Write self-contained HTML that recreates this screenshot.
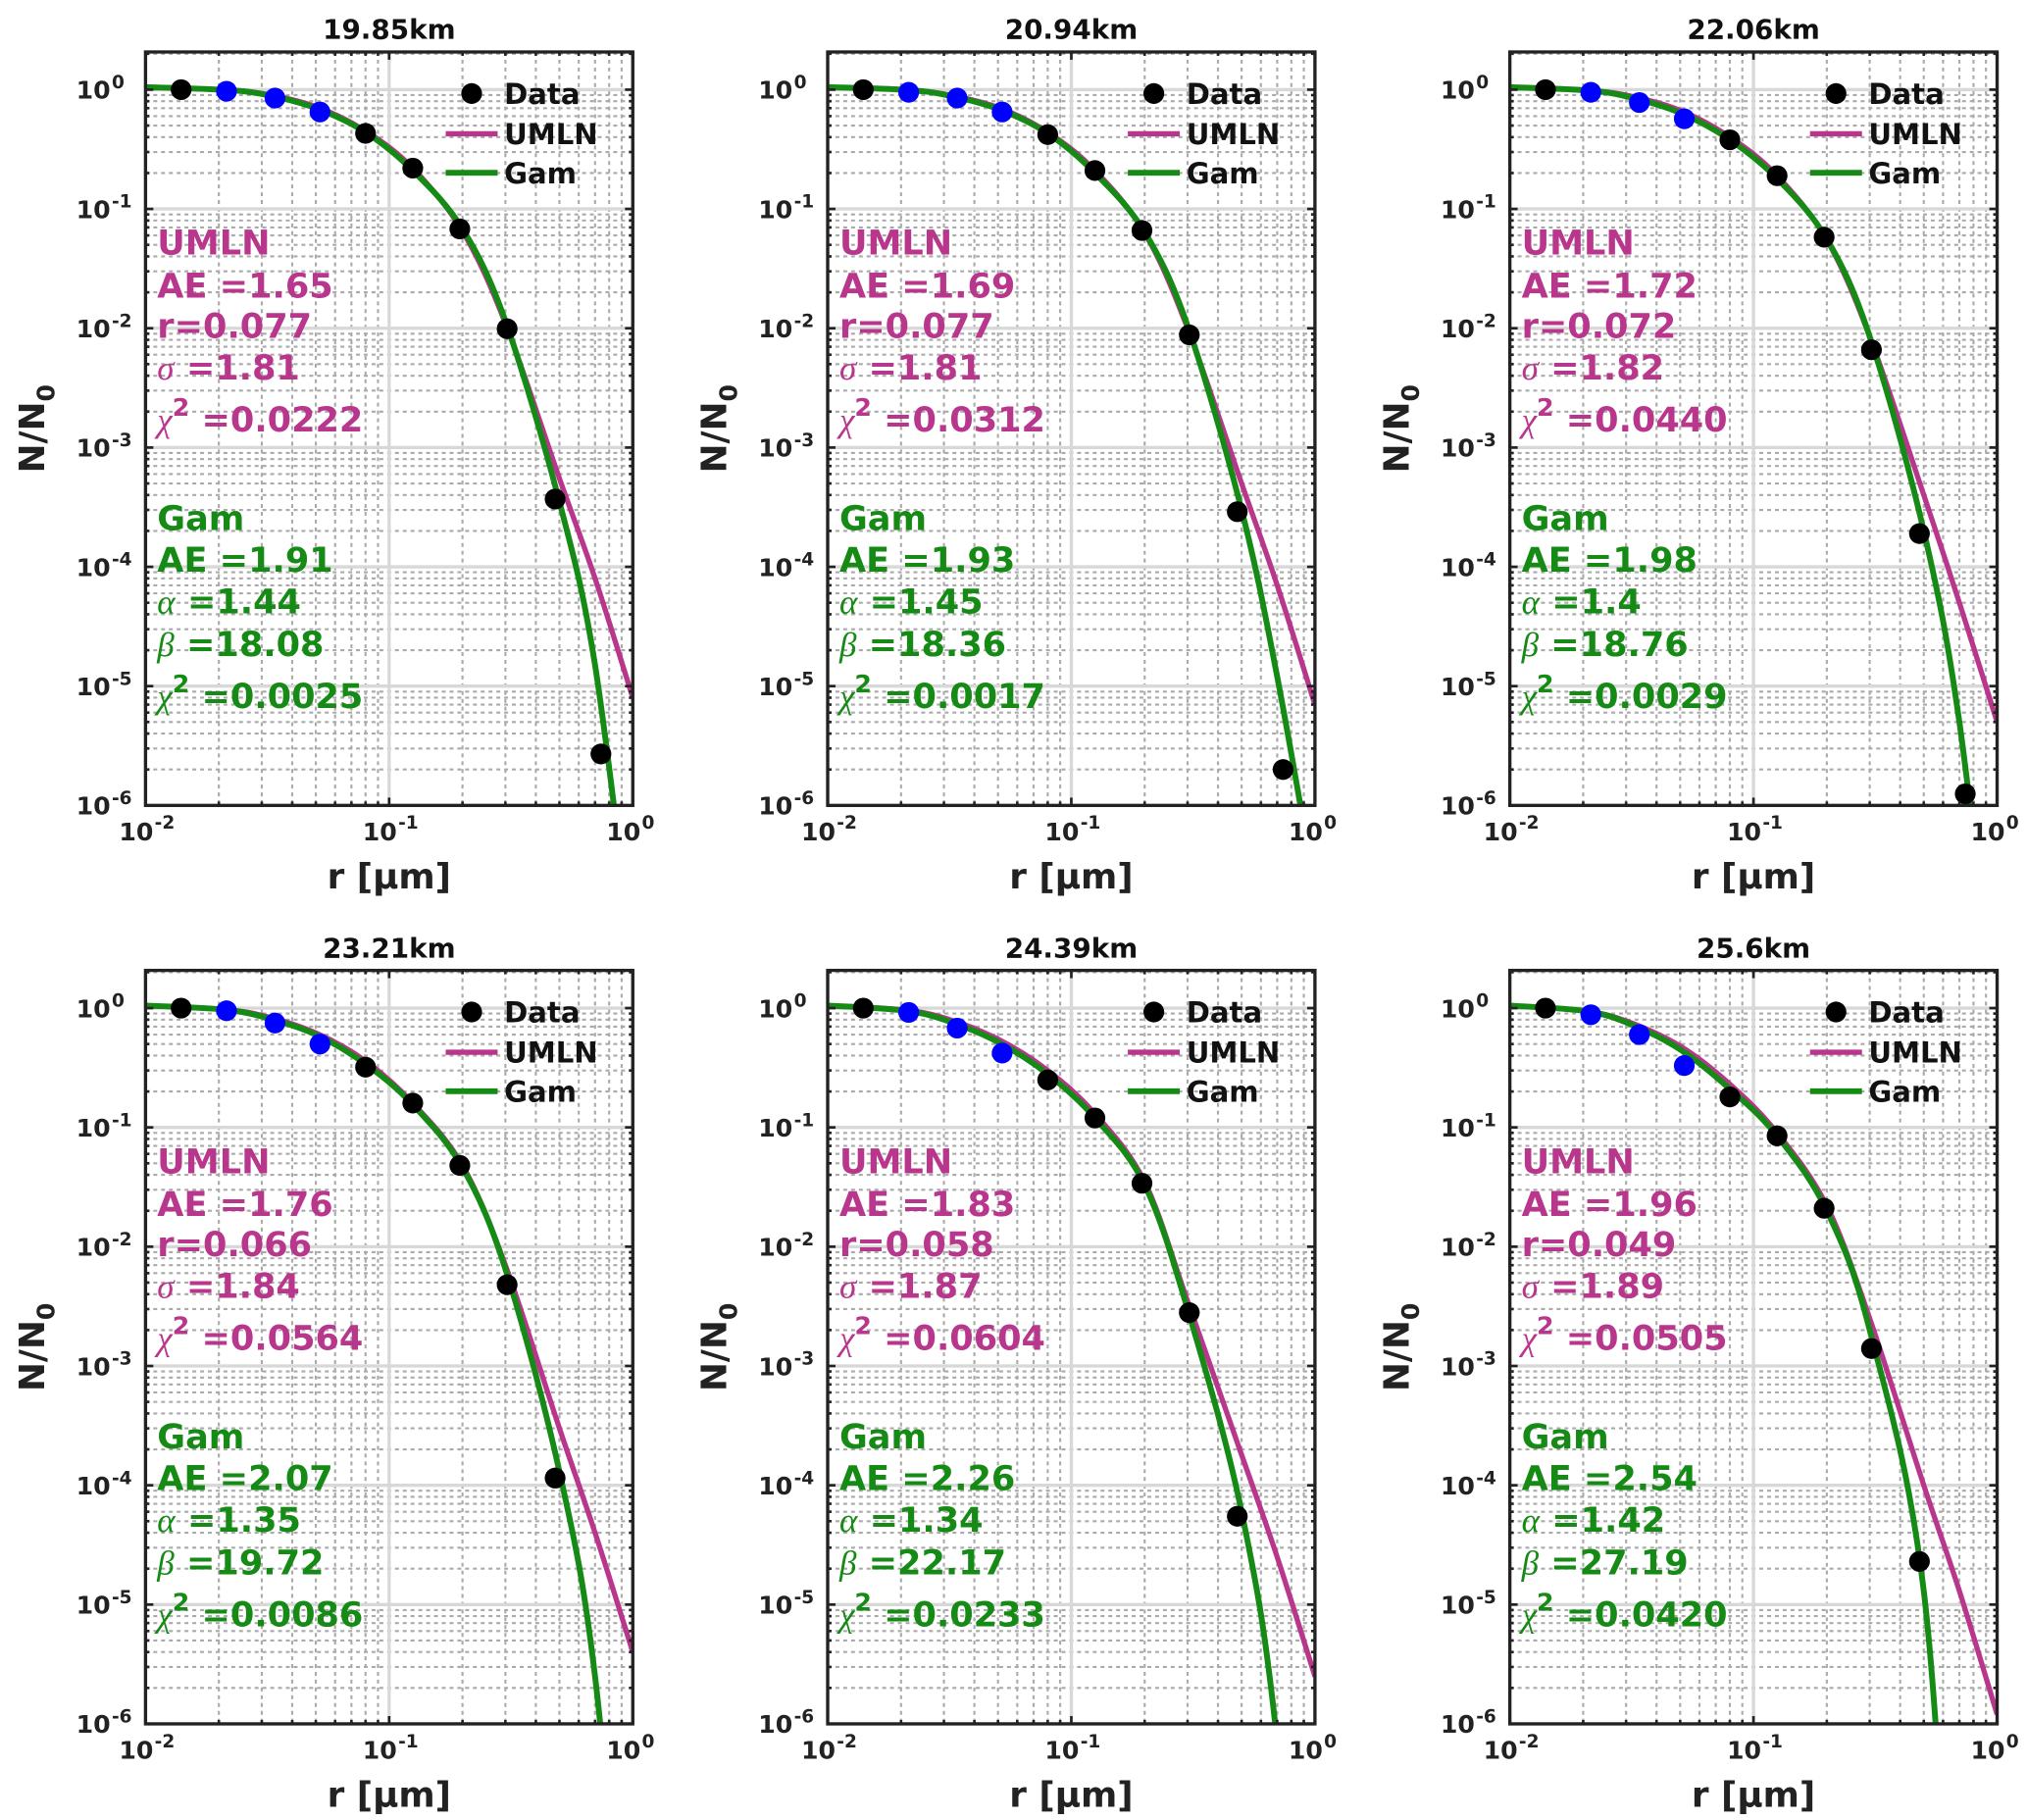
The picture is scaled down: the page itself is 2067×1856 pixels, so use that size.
<!DOCTYPE html>
<html><head><meta charset="utf-8"><style>
html,body{margin:0;padding:0;background:#fff;overflow:hidden;width:2067px;height:1856px;}
svg{display:block;font-family:"DejaVu Sans","Liberation Sans",sans-serif;}
</style></head><body>
<svg id="fig" width="2067" height="1856" viewBox="0 0 1560 1401" preserveAspectRatio="none" xmlns="http://www.w3.org/2000/svg"></svg>
<script>
const titles = ["19.85km","20.94km","22.06km","23.21km","24.39km","25.6km"];
const dataX = [0.014,0.0215,0.034,0.052,0.08,0.125,0.195,0.305,0.48,0.74];
const blueIdx = [1,2,3];
const dataY1 = [1.0,0.97,0.85,0.65,0.43,0.22,0.068,0.0099,3.7e-4,2.7e-6];
const dataY2 = [1.0,0.95,0.85,0.65,0.42,0.21,0.066,0.0088,2.9e-4,2.0e-6];
const dataY3 = [1.0,0.95,0.78,0.57,0.38,0.19,0.058,0.0066,1.9e-4,1.25e-6];
const dataY4 = [1.0,0.95,0.75,0.5,0.32,0.16,0.048,0.0048,1.15e-4,null];
const dataY5 = [1.0,0.92,0.68,0.42,0.25,0.12,0.034,0.0028,5.5e-5,null];
const dataY6 = [1.0,0.88,0.6,0.33,0.18,0.085,0.021,0.0014,2.3e-5,null];
const curveX = [0.01,0.02,0.03,0.05,0.08,0.125,0.2,0.3,0.5,0.7,1.0];
const umln1 = [1.05,1.0,0.93,0.72,0.45,0.22,0.065,0.011,5.5e-4,8e-5,8e-6];
const gam1  = [1.05,1.0,0.92,0.70,0.44,0.21,0.068,0.0115,3.5e-4,1.5e-5,5e-8];
const umln2 = [1.05,1.0,0.92,0.71,0.44,0.21,0.063,0.010,5e-4,7e-5,7e-6];
const gam2  = [1.05,1.0,0.91,0.69,0.43,0.20,0.064,0.0105,3e-4,1.2e-5,2e-7];
const umln3 = [1.05,0.99,0.90,0.67,0.40,0.19,0.055,0.0085,4e-4,5e-5,5e-6];
const gam3  = [1.05,0.99,0.88,0.64,0.38,0.18,0.056,0.0085,2e-4,5e-6,1e-8];
const umln4 = [1.05,0.98,0.87,0.62,0.36,0.16,0.048,0.007,3e-4,4e-5,4e-6];
const gam4  = [1.05,0.98,0.85,0.60,0.34,0.155,0.046,0.0065,1.3e-4,2.5e-6,1e-9];
const umln5 = [1.05,0.97,0.83,0.55,0.30,0.13,0.035,0.0035,1.8e-4,2.5e-5,2.5e-6];
const gam5  = [1.05,0.96,0.80,0.52,0.28,0.12,0.033,0.003,6e-5,7e-7,1e-10];
const umln6 = [1.05,0.95,0.78,0.48,0.23,0.09,0.022,0.0025,1e-4,1.3e-5,1.2e-6];
const gam6  = [1.05,0.95,0.76,0.45,0.21,0.085,0.02,0.002,1.3e-5,1e-9,1e-12];
const umlnAE = ["1.65","1.69","1.72","1.76","1.83","1.96"];
const umlnR = ["0.077","0.077","0.072","0.066","0.058","0.049"];
const umlnS = ["1.81","1.81","1.82","1.84","1.87","1.89"];
const umlnC = ["0.0222","0.0312","0.0440","0.0564","0.0604","0.0505"];
const gamAE = ["1.91","1.93","1.98","2.07","2.26","2.54"];
const gamA = ["1.44","1.45","1.4","1.35","1.34","1.42"];
const gamB = ["18.08","18.36","18.76","19.72","22.17","27.19"];
const gamC = ["0.0025","0.0017","0.0029","0.0086","0.0233","0.0420"];
const yTickExp = [0,-1,-2,-3,-4,-5,-6];
const xTickExp = [-2,-1,0];

const allData=[dataY1,dataY2,dataY3,dataY4,dataY5,dataY6];
const allU=[umln1,umln2,umln3,umln4,umln5,umln6];
const allG=[gam1,gam2,gam3,gam4,gam5,gam6];
const MAG="#b8368b", GRN="#158a15";
const NS="http://www.w3.org/2000/svg";
const svg=document.getElementById('fig');
function mk(tag,attrs,parent){const e=document.createElementNS(NS,tag);for(const k in attrs)e.setAttribute(k,attrs[k]);(parent||svg).appendChild(e);return e;}
const colX=[112,637,1162], rowY=[40,747];
const W=375,H=580;
const yMaxLog=Math.log10(2.07), yMinLog=-6;

function smooth(pts){
  let d="M"+pts[0][0]+","+pts[0][1];
  for(let i=0;i<pts.length-1;i++){
    const p0=pts[Math.max(0,i-1)],p1=pts[i],p2=pts[i+1],p3=pts[Math.min(pts.length-1,i+2)];
    const c1=[p1[0]+(p2[0]-p0[0])/6,p1[1]+(p2[1]-p0[1])/6];
    const c2=[p2[0]-(p3[0]-p1[0])/6,p2[1]-(p3[1]-p1[1])/6];
    d+=" C"+c1[0]+","+c1[1]+" "+c2[0]+","+c2[1]+" "+p2[0]+","+p2[1];
  }
  return d;
}

for(let p=0;p<6;p++){
  const L=colX[p%3], T=rowY[Math.floor(p/3)];
  const sx=v=>L+(Math.log10(v)+2)/2*W;
  const sy=v=>T+(yMaxLog-Math.log10(v))/(yMaxLog-yMinLog)*H;
  const g=mk('g',{});
  
  
  const cp=mk('clipPath',{id:'clip'+p},g);
  mk('rect',{x:L,y:T,width:W,height:H},cp);
  const grid=mk('g',{},g);
  
  
  for(let e=-2;e<0;e++){for(let m=2;m<=9;m++){const x=sx(m*Math.pow(10,e));mk('line',{x1:x,x2:x,y1:T,y2:T+H,stroke:'#aaa','stroke-width':1.6,'stroke-dasharray':'3,3'},grid);}}
  for(let e=-6;e<1;e++){for(let m=2;m<=9;m++){const v=m*Math.pow(10,e);if(Math.log10(v)>yMaxLog)continue;const y=sy(v);mk('line',{x1:L,x2:L+W,y1:y,y2:y,stroke:'#aaa','stroke-width':1.6,'stroke-dasharray':'3,3'},grid);}}
  xTickExp.forEach(e=>{const x=sx(Math.pow(10,e));mk('line',{x1:x,x2:x,y1:T,y2:T+H,stroke:'#d8d8d8','stroke-width':2.5},grid);});
  yTickExp.forEach(e=>{const y=sy(Math.pow(10,e));mk('line',{x1:L,x2:L+W,y1:y,y2:y,stroke:'#d8d8d8','stroke-width':2.5},grid);});
  const um=allU[p], ga=allG[p];
  const pu=mk('path',{d:smooth(curveX.map((x,i)=>[sx(x),sy(um[i])])),fill:'none',stroke:MAG,'stroke-width':4,'clip-path':'url(#clip'+p+')'},g);
  
  
  const pg=mk('path',{d:smooth(curveX.map((x,i)=>[sx(x),sy(ga[i])])),fill:'none',stroke:GRN,'stroke-width':4.5,'clip-path':'url(#clip'+p+')'},g);
  
  
  const dy=allData[p];
  dataX.forEach((x,i)=>{if(dy[i]==null)return;
    const c=mk('circle',{cx:sx(x),cy:sy(dy[i]),r:8,fill:blueIdx.includes(i)?'#0000ff':'#000'},g);
    
    });
  const fr=mk('rect',{x:L,y:T,width:W,height:H,fill:'none',stroke:'#222','stroke-width':2.5},g);
  
  
  for(let e=-6;e<1;e++){for(let m=1;m<=9;m++){const v=m*Math.pow(10,e);if(Math.log10(v)>yMaxLog)continue;const y=sy(v);const len=m==1?6:3;
    mk('line',{x1:L,x2:L+len,y1:y,y2:y,stroke:'#222','stroke-width':2},g);mk('line',{x1:L+W,x2:L+W-len,y1:y,y2:y,stroke:'#222','stroke-width':2},g);}}
  for(let e=-2;e<=0;e++){for(let m=1;m<=9;m++){const v=m*Math.pow(10,e);if(v>1)continue;const x=sx(v);const len=m==1?6:3;
    mk('line',{x1:x,x2:x,y1:T,y2:T+len,stroke:'#222','stroke-width':2},g);mk('line',{x1:x,x2:x,y1:T+H,y2:T+H-len,stroke:'#222','stroke-width':2},g);}}
  yTickExp.forEach(e=>{const y=sy(Math.pow(10,e));
    const t=mk('text',{x:L-27,y:y+7,'text-anchor':'end','font-size':19,'font-weight':'bold',fill:'#222'},g);
    
    
    t.textContent='10';
    const s=mk('text',{x:L-26,y:y-1,'font-size':14,'font-weight':'bold',fill:'#222'},g);
    s.textContent=String(e);});
  xTickExp.forEach(e=>{const x=sx(Math.pow(10,e));
    const t=mk('text',{x:x+6,y:T+H+27,'text-anchor':'end','font-size':19,'font-weight':'bold',fill:'#222'},g);
    
    
    t.textContent='10';
    const s=mk('text',{x:x+7,y:T+H+18,'font-size':14,'font-weight':'bold',fill:'#222'},g);
    s.textContent=String(e);});
  const tt=mk('text',{x:L+W/2,y:T-10,'text-anchor':'middle','font-size':21,'font-weight':'bold',fill:'#111'},g);
  
  
  tt.textContent=titles[p];
  const xl=mk('text',{x:L+W/2,y:T+H+64,'text-anchor':'middle','font-size':27,'font-weight':'bold',fill:'#222'},g);
  
  
  xl.textContent='r [μm]';
  const yl=mk('text',{transform:`translate(${L-78},${T+H/2}) rotate(-90)`,'text-anchor':'middle','font-size':27,'font-weight':'bold',fill:'#222'},g);
  
  
  yl.innerHTML='N/N<tspan font-size="19" dy="8">0</tspan>';
  const lg=mk('g',{},g);
  
  
  mk('circle',{cx:L+251,cy:T+32,r:8,fill:'#000'},lg);
  mk('line',{x1:L+231,x2:L+271,y1:T+63,y2:T+63,stroke:MAG,'stroke-width':4},lg);
  mk('line',{x1:L+231,x2:L+271,y1:T+93,y2:T+93,stroke:GRN,'stroke-width':4.5},lg);
  [['Data',32],['UMLN',63],['Gam',93]].forEach(([s,dy2])=>{const t=mk('text',{x:L+276,y:T+dy2+8,'font-size':22,'font-weight':'bold',fill:'#111'},lg);t.textContent=s;});
  const ann=mk('g',{'font-size':26.5,'font-weight':'bold'},g);
  
  
  const ax=L+9;
  const G='font-family="Liberation Serif,serif" font-style="italic" font-weight="normal"';
  const lines=[
    [MAG,156,'UMLN'],[MAG,189,'AE =' + umlnAE[p]],[MAG,220,'r=' + umlnR[p]],
    [MAG,252,`<tspan ${G}>σ</tspan> =${umlnS[p]}`],
    [MAG,292,`<tspan ${G}>χ</tspan><tspan font-size="19" dy="-12">2</tspan><tspan dy="12"> =${umlnC[p]}</tspan>`],
    [GRN,368,'Gam'],[GRN,400,'AE =' + gamAE[p]],
    [GRN,432,`<tspan ${G}>α</tspan> =${gamA[p]}`],
    [GRN,465,`<tspan ${G}>β</tspan> =${gamB[p]}`],
    [GRN,505,`<tspan ${G}>χ</tspan><tspan font-size="19" dy="-12">2</tspan><tspan dy="12"> =${gamC[p]}</tspan>`]];
  lines.forEach(([c,y,h])=>{const t=mk('text',{x:ax,y:T+y,fill:c},ann);t.innerHTML=h;});
}
</script>
</body></html>
